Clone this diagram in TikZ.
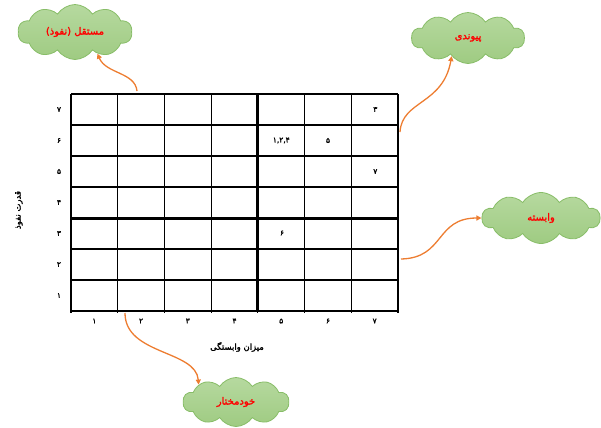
\documentclass[tikz,border=0pt]{standalone}
\usepackage{fontspec}
\newfontfamily\fa[Script=Arabic, FakeBold=2]{DejaVu Sans}
\TeXXeTstate=1
\usetikzlibrary{shapes.symbols,arrows.meta}
\definecolor{arr}{HTML}{ED7D31}
\definecolor{cloudbot}{HTML}{9FCB82}
\definecolor{cloudtop}{HTML}{B6D99F}
\definecolor{cloudline}{HTML}{88BD68}
\begin{document}
\begin{tikzpicture}[x=1bp,y=-1bp,
  thingrid/.style={line width=1.1bp},
  thickgrid/.style={line width=3bp},
  cloudbox/.style={cloud, cloud puffs=10, cloud puff arc=115, aspect=2.2,
    draw=cloudline, line width=0.8bp, top color=cloudtop, bottom color=cloudbot,
    inner sep=0pt, text=red, font=\fa\fontsize{10}{11}\selectfont},
  lbl/.style={font=\fa\fontsize{7.5}{8}\selectfont, inner sep=0pt},
  axlbl/.style={font=\fa\fontsize{8.5}{9}\selectfont, inner sep=0pt},
  conn/.style={draw=arr, line width=1.3bp, -{Triangle[length=5bp,width=5bp]}}
]
\useasboundingbox (0,0) rectangle (601,427);
% grid
\foreach \i in {0,...,7} \draw[thingrid] ({71+\i*46.714},94) -- ({71+\i*46.714},313);
\foreach \j in {0,...,7} \draw[thingrid] (71,{94+\j*31}) -- (398,{94+\j*31});
\draw[thickgrid] (257.9,94) -- (257.9,311);
\draw[thickgrid] (71,218) -- (398,218);
% axis numbers
\foreach \d [count=\i] in {۱,۲,۳,۴,۵,۶,۷} {
  \node[lbl] (col\i) at ({71+46.714*(\i-0.5)},321) {\d};
  \node[lbl] (row\i) at (59,{311-31*(\i-0.5)}) {\d};
}
% cell contents
\node[lbl] (c77) at (375.3,109.5) {۳};
\node[lbl] (c56) at (281.3,140.5) {۱,۲,۴};
\node[lbl] (c66) at (328.0,140.5) {۵};
\node[lbl] (c75) at (375.3,171.5) {۷};
\node[lbl] (c53) at (282,233) {۶};
% axis titles
\node[axlbl] (xt) at (237,347) {\beginR میزان وابستگی\endR};
\node[axlbl, rotate=90] (yt) at (19,210) {\beginR قدرت نفوذ\endR};
% clouds
\node[cloudbox, minimum width=114bp, minimum height=55bp] (c1) at (75,32) {\beginR مستقل (نفوذ)\endR};
\node[cloudbox, minimum width=113bp, minimum height=51bp] (c2) at (468,38) {\beginR پیوندی\endR};
\node[cloudbox, minimum width=118bp, minimum height=51bp] (c3) at (541,218) {\beginR وابسته\endR};
\node[cloudbox, minimum width=106bp, minimum height=49bp] (c4) at (236,402) {\beginR خودمختار\endR};
% connectors
\coordinate (s1) at (137,91);
\coordinate (s2) at (400,132);
\coordinate (s3) at (401,259);
\coordinate (s4) at (125,313);
\draw[conn] (s1) .. controls (135,72) and (106,74) .. (c1.-44);
\draw[conn] (s2) .. controls (402,100) and (443,105) .. (c2.-132);
\draw[conn] (s3) .. controls (445,258) and (435,218) .. (c3.180);
\draw[conn] (s4) .. controls (125,355) and (196,350) .. (c4.155);
\end{tikzpicture}
\end{document}
